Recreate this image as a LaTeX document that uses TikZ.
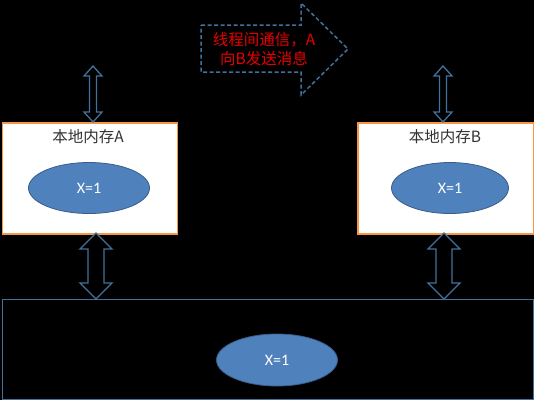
\documentclass[tikz,border=0pt]{standalone}
\usepackage{fontspec}
\newfontfamily\cjk{Noto Sans CJK SC}
\newfontfamily\carl{Carlito}
\usetikzlibrary{shapes.geometric}
\definecolor{lineblue}{HTML}{41719C}
\definecolor{ellfill}{HTML}{4F81BD}
\definecolor{ellline}{HTML}{385D8A}
\definecolor{boxorange}{HTML}{F79646}
\definecolor{txtred}{HTML}{E80000}
\tikzset{
  membox/.style={draw=boxorange, line width=1.6pt, fill=white, anchor=north west, inner sep=0pt},
  mainbox/.style={draw=lineblue, line width=1.4pt, fill=black, anchor=north west, inner sep=0pt},
  xell/.style={ellipse, draw=ellline, line width=0.8pt, fill=ellfill, inner sep=0pt, text=white, font=\carl\fontsize{16}{18}\selectfont},
  boxtitle/.style={font=\cjk\fontsize{15.5}{18}\selectfont, text=black!80},
  blockarrow/.style={draw=lineblue, line width=1.3pt, fill=black, line join=miter},
  msgarrow/.style={draw=lineblue, line width=1.5pt, dashed, dash pattern=on 4pt off 2.5pt, fill=black},
  msgtext/.style={font=\cjk\fontsize{15.5}{19.5}\selectfont, text=txtred, align=center}
}
% vertical double block arrow: #1 = center x, #2 = top y, #3 = bottom y, #4 = half width, #5 = shaft half width, #6 = head length
\newcommand\myvdarrow[6]{%
  \draw[blockarrow] (#1,#2) -- (#1+#4,#2+#6) -- (#1+#5,#2+#6) -- (#1+#5,#3-#6) -- (#1+#4,#3-#6)
    -- (#1,#3) -- (#1-#4,#3-#6) -- (#1-#5,#3-#6) -- (#1-#5,#2+#6) -- (#1-#4,#2+#6) -- cycle;}
\begin{document}
\begin{tikzpicture}[x=1pt,y=-1pt]
\fill[black] (0,0) rectangle (534,400);
\useasboundingbox (0,0) rectangle (534,400);
% main memory
\node[mainbox, minimum width=531pt, minimum height=100pt] (main) at (1.5,299) {};
\node[xell, minimum width=121pt, minimum height=52pt] (xm) at (277,360) {X=1};
% local memory boxes
\node[membox, minimum width=175pt, minimum height=111pt] (boxA) at (1.5,122) {};
\node[membox, minimum width=176pt, minimum height=111pt] (boxB) at (357,122) {};
\node[boxtitle] (tA) at (88,137) {本地内存A};
\node[boxtitle] (tB) at (445,137) {本地内存B};
\node[xell, minimum width=121pt, minimum height=51pt] (xa) at (89,188) {X=1};
\node[xell, minimum width=117pt, minimum height=51pt] (xb) at (450,188) {X=1};
% double arrows
\myvdarrow{93}{66}{122}{9}{3.5}{10}
\myvdarrow{443}{66}{122}{9}{3.5}{10}
\myvdarrow{96}{233}{299}{16}{8}{16}
\myvdarrow{444}{233}{299}{16}{8}{16}
% message arrow
\draw[msgarrow] (201,25) -- (301,25) -- (301,3) -- (348,49) -- (301,95) -- (301,72) -- (201,72) -- cycle;
\node[msgtext] (msg) at (264,49) {线程间通信，A\\向B发送消息};
\end{tikzpicture}
\end{document}
